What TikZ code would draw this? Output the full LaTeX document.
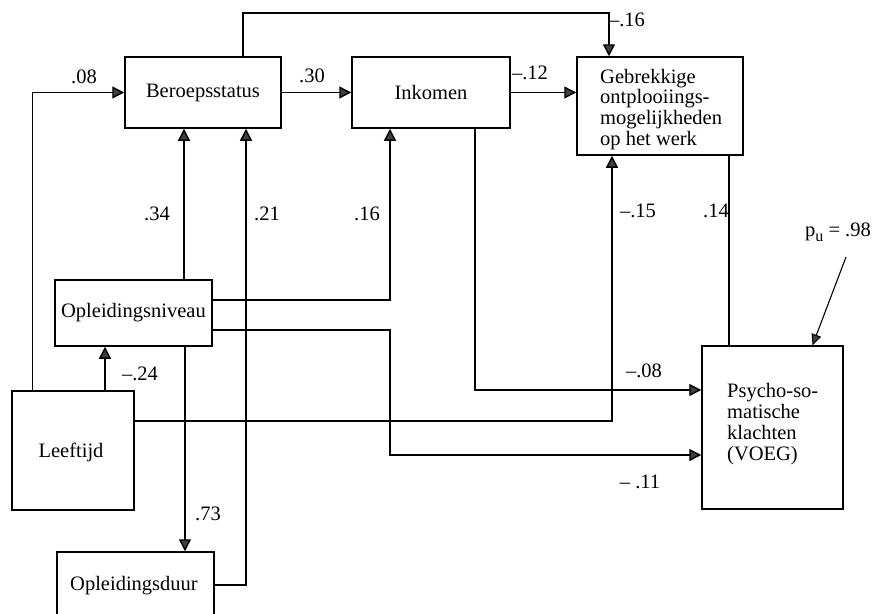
\documentclass[tikz,border=0pt]{standalone}
\usepackage{fontspec}
\setmainfont{Liberation Serif}
\usetikzlibrary{arrows.meta}
\begin{document}
\begin{tikzpicture}[x=1pt,y=-1pt,
  box/.style={draw, line width=1.5pt, rectangle, inner sep=0pt, font=\fontsize{20.5}{20.7}\selectfont},
  txt/.style={inner sep=0pt, font=\fontsize{20.5}{20.7}\selectfont},
  lbl/.style={inner sep=0pt, anchor=base, font=\fontsize{20.5}{20.7}\selectfont},
  conn/.style={line width=1.4pt},
  arr/.style={line width=1.4pt, -{Triangle[length=12pt,width=12pt,fill=black!75]}}]
\clip (0,0) rectangle (878,613);
\fill[white] (0,0) rectangle (878,613);
% boxes
\node[box, minimum width=156pt, minimum height=71pt] (ber) at (203,92.5) {Beroepsstatus};
\node[box, minimum width=158pt, minimum height=71pt] (ink) at (431,92.5) {Inkomen};
\node[box, minimum width=166pt, minimum height=98pt] (geb) at (660,106) {};
\node[box, minimum width=157pt, minimum height=66pt] (opn) at (133.5,313) {Opleidingsniveau};
\node[box, minimum width=122pt, minimum height=119pt] (lee) at (73,450.5) {};
\node[txt, anchor=base] (leet) at (71,457) {Leeftijd};
\node[box, minimum width=157pt, minimum height=66pt] (opd) at (135.5,585) {};
\node[txt, anchor=base] (opdt) at (134,590) {Opleidingsduur};
\node[box, minimum width=141pt, minimum height=163pt] (psy) at (772.5,427.5) {};
% multi-line texts
\node[txt, anchor=base west] (g1) at (600,83) {Gebrekkige};
\node[txt, anchor=base west] (g2) at (600,103.7) {ontplooiings-};
\node[txt, anchor=base west] (g3) at (600,124.4) {mogelijkheden};
\node[txt, anchor=base west] (g4) at (600,145.1) {op het werk};
\node[txt, anchor=base west] (p1) at (727,397) {Psycho-so-};
\node[txt, anchor=base west] (p2) at (727,418) {matische};
\node[txt, anchor=base west] (p3) at (727,439) {klachten};
\node[txt, anchor=base west] (p4) at (727,460) {(VOEG)};
% connectors
\draw[arr] ([xshift=21pt]lee.north west) |- (ber.west);
\draw[arr] (ber.east) -- (ink.west);
\draw[arr] (ink.east) -- (ink.east -| geb.west);
\coordinate (topc) at (0,13);
\draw[arr] ([xshift=40pt]ber.north) -- ([xshift=40pt]ber.north |- topc) -| ([xshift=-51pt]geb.north);
\draw[arr] ([xshift=50.5pt]opn.north) -- ([xshift=50.5pt]opn.north |- ber.south);
\draw[arr] (opd.east) -| ([xshift=43pt]ber.south);
\draw[arr] ([yshift=13pt]opn.east) -| ([xshift=-41pt]ink.south);
\coordinate (c11) at (390,455);
\draw[arr] ([yshift=-17pt]opn.east) -| (c11) -- (c11 -| psy.west);
\draw[arr] ([xshift=44pt]ink.south) |- ([yshift=37.5pt]psy.west);
\draw[arr] ([yshift=29.5pt]lee.east) -| ([xshift=-48pt]geb.south);
\draw[conn] ([xshift=69pt]geb.south) -- ([xshift=69pt]geb.south |- psy.north);
\draw[arr] ([xshift=32pt]lee.north) -- ([xshift=32pt]lee.north |- opn.south);
\draw[arr] ([xshift=51.5pt]opn.south) -- ([xshift=51.5pt]opn.south |- opd.north);
\coordinate (pu) at (846,257);
\draw[line width=1.1pt, -{Triangle[length=11pt,width=10pt,fill=black!75]}] (pu) -- ([xshift=40pt]psy.north);
% labels
\node[lbl] (l08) at (84,83) {.08};
\node[lbl] (l30) at (312,82) {.30};
\node[lbl] (l12) at (530,79) {–.12};
\node[lbl] (l16) at (627,26) {–.16};
\node[lbl] (l34) at (157,220) {.34};
\node[lbl] (l21) at (267,220) {.21};
\node[lbl] (l16b) at (367,220) {.16};
\node[lbl] (l15) at (638,217) {–.15};
\node[lbl] (l14) at (716,217) {.14};
\node[lbl] (lpu) at (838,236) {p\raisebox{-5pt}{\fontsize{16}{16}\selectfont u} = .98};
\node[lbl] (l24) at (140,380) {–.24};
\node[lbl] (l73) at (208,520) {.73};
\node[lbl] (l08b) at (644,377) {–.08};
\node[lbl] (l11) at (640,488) {– .11};
\end{tikzpicture}
\end{document}
